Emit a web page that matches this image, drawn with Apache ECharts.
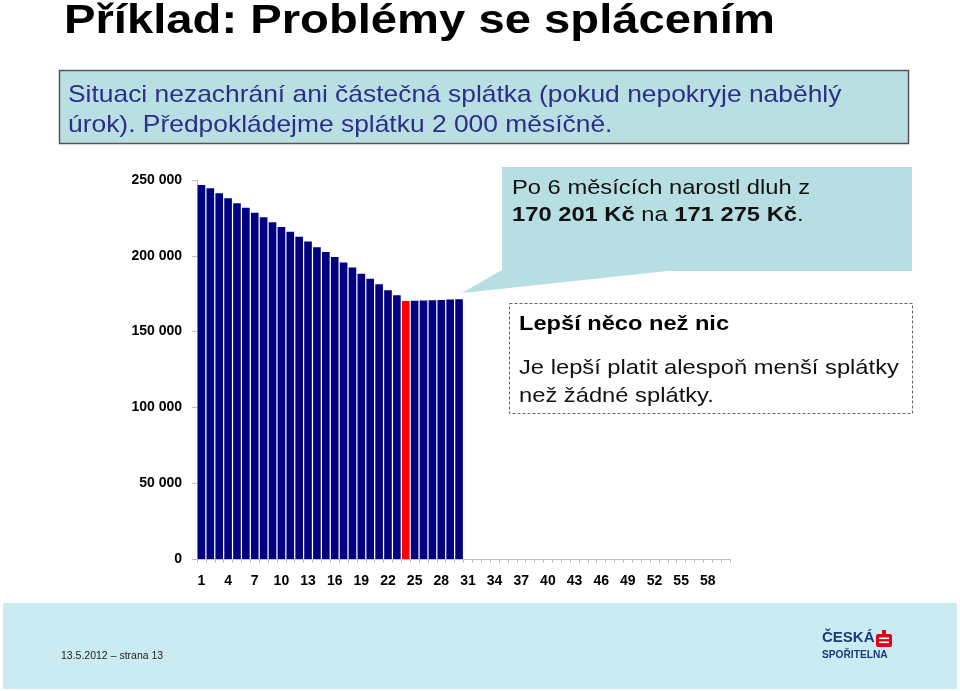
<!DOCTYPE html>
<html><head><meta charset="utf-8">
<script src="https://cdn.jsdelivr.net/npm/echarts@6/dist/echarts.min.js"></script>
<style>html,body{margin:0;padding:0;background:#fff}#c{width:960px;height:691px}</style>
</head><body><div id="c"></div>
<script>
const months = ['1','2','3','4','5','6','7','8','9','10','11','12','13','14','15','16','17','18','19','20',
  '21','22','23','24','25','26','27','28','29','30','31','32','33','34','35','36','37','38','39','40',
  '41','42','43','44','45','46','47','48','49','50','51','52','53','54','55','56','57','58','59','60'];
const debt = [246700, 244500, 241200, 237900, 234600, 231700, 228400, 225400, 222100, 219000,
  215900, 212600, 209500, 205600, 202500, 199200, 195500, 192200, 188200, 184900,
  181200, 177200, 173900, 170201, 170380, 170560, 170740, 170918, 171097, 171275];
const highlightMonth = '24';
const yTicks = [0, 50000, 100000, 150000, 200000, 250000];

const FONT = '"Liberation Sans", Arial, sans-serif';
const chart = echarts.init(document.getElementById('c'));
const barData = debt.map((v, i) => months[i] === highlightMonth
  ? { value: v, itemStyle: { color: '#ff0000' } } : v);

function txt(x, y, text, font, fill, sx, extra) {
  return Object.assign({ type: 'text', x: x, y: y, scaleX: sx || 1, z: 10,
    style: Object.assign({ text: text, font: font, fill: fill, verticalAlign: 'middle', align: 'left' }, extra || {}) });
}

chart.setOption({
  animation: false,
  grid: { left: 197, right: 230, top: 180, bottom: 132 },
  xAxis: {
    type: 'category', data: months, boundaryGap: true,
    axisLine: { lineStyle: { color: '#c0c0c0', width: 1 } },
    axisTick: { show: true, interval: 0, length: 4, lineStyle: { color: '#c0c0c0' } },
    axisLabel: { interval: 2, color: '#000', fontWeight: 'bold', fontSize: 14, fontFamily: FONT, margin: 15 }
  },
  yAxis: {
    type: 'value', min: yTicks[0], max: yTicks[yTicks.length - 1], interval: 50000,
    splitLine: { show: false },
    axisLine: { show: true, lineStyle: { color: '#c0c0c0' } },
    axisTick: { show: true, length: 5, lineStyle: { color: '#c0c0c0' } },
    axisLabel: { color: '#000', fontWeight: 'bold', fontSize: 14, fontFamily: FONT, margin: 15,
      formatter: v => String(v).replace(/\B(?=(\d{3})+(?!\d))/g, ' ') }
  },
  series: [{
    type: 'bar', data: barData, barCategoryGap: '14%',
    itemStyle: { color: '#000080' }
  }],
  graphic: [
    txt(64, 22, 'Příklad: Problémy se splácením', 'bold 40px ' + FONT, '#000', 1.18),
    { type: 'rect', shape: { x: 59.5, y: 70.5, width: 849, height: 73 }, style: { fill: '#b9dfe3', stroke: '#555', lineWidth: 1.5 } },
    txt(68, 95, 'Situaci nezachrání ani částečná splátka (pokud nepokryje naběhlý', '24px ' + FONT, '#2a2f8a', 1.1),
    txt(68, 125, 'úrok). Předpokládejme splátku 2 000 měsíčně.', '24px ' + FONT, '#2a2f8a', 1.1),
    { type: 'polygon', shape: { points: [[502, 270], [677, 270], [462, 293]] }, style: { fill: '#b7dee3' } },
    { type: 'rect', shape: { x: 502, y: 167, width: 410, height: 104 }, style: { fill: '#b7dee3' } },
    txt(512, 188, 'Po 6 měsících narostl dluh z', '21px ' + FONT, '#111', 1.13),
    txt(512, 215, '{b|170 201 Kč} na {b|171 275 Kč}.', '21px ' + FONT, '#111', 1.13,
      { rich: { b: { fontWeight: 'bold', fontSize: 21, fontFamily: FONT, fill: '#111' } } }),
    { type: 'rect', shape: { x: 509.5, y: 303.5, width: 403, height: 110 }, style: { fill: '#fff', stroke: '#666', lineWidth: 1, lineDash: [3, 2] } },
    txt(519, 324, 'Lepší něco než nic', 'bold 21px ' + FONT, '#000', 1.125),
    txt(519, 368, 'Je lepší platit alespoň menší splátky', '21px ' + FONT, '#111', 1.13),
    txt(519, 396, 'než žádné splátky.', '21px ' + FONT, '#111', 1.13),
    { type: 'rect', shape: { x: 3, y: 603, width: 954, height: 86 }, style: { fill: '#cbebf3' } },
    txt(61, 656, '13.5.2012 – strana 13', '10.5px ' + FONT, '#222', 1),
    txt(822, 638, 'ČESKÁ', 'bold 15px ' + FONT, '#1a3a7a', 1),
    txt(822, 655, 'SPOŘITELNA', 'bold 10.5px ' + FONT, '#1a3a7a', 0.97),
    { type: 'rect', z: 10, shape: { x: 876, y: 634, width: 16, height: 13, r: 2 }, style: { fill: '#e3001b' } },
    { type: 'rect', z: 11, shape: { x: 879, y: 637.5, width: 10, height: 1.6 }, style: { fill: '#fff' } },
    { type: 'rect', z: 11, shape: { x: 879, y: 641.5, width: 10, height: 1.6 }, style: { fill: '#fff' } },
    { type: 'rect', z: 10, shape: { x: 882, y: 630, width: 4, height: 4 }, style: { fill: '#e3001b' } }
  ]
});
</script></body></html>
